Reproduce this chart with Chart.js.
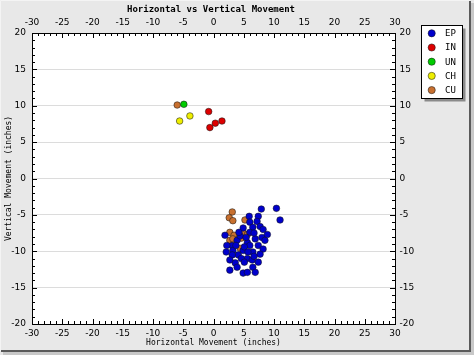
<!DOCTYPE html>
<html><head><meta charset="utf-8">
<script src="https://cdn.jsdelivr.net/npm/chart.js@4"></script>
<style>html,body{margin:0;padding:0;background:#e8e8e8;} canvas{display:block;}</style>
</head><body>
<canvas id="c" width="474" height="355"></canvas>
<script>
// ---- data ----
const seriesNames = ['EP', 'IN', 'UN', 'CH', 'CU'];
const seriesColors = ['#0000cc', '#dd0000', '#00cc00', '#eeee00', '#c8702f'];
const chartTitle = 'Horizontal vs Vertical Movement';
const xTitle = 'Horizontal Movement (inches)';
const yTitle = 'Vertical Movement (inches)';
const xTicks = [-30, -25, -20, -15, -10, -5, 0, 5, 10, 15, 20, 25, 30];
const yTicks = [-20, -15, -10, -5, 0, 5, 10, 15, 20];

const epX = [7.9, 10.4, 11.0, 7.4, 7.2, 5.9, 6.0, 7.7, 8.2, 6.5, 6.0, 8.0, 6.9, 5.6, 6.0, 7.4, 8.2, 4.9, 6.5, 7.7, 3.1, 2.2, 1.9, 3.9, 3.2, 4.1, 5.6, 6.4, 3.6, 3.9, 6.5, 2.7, 4.9, 5.6, 6.9, 4.9, 4.4, 3.7, 5.1, 5.7, 4.6, 5.1, 3.1, 2.7, 2.1, 6.7, 7.4, 8.5, 8.9, 6.7, 5.4, 4.2];
const epY = [-4.2, -4.1, -5.7, -5.2, -5.9, -5.2, -6.0, -6.6, -7.0, -6.7, -7.4, -8.1, -8.3, -8.8, -9.2, -9.2, -9.7, -9.9, -10.1, -10.4, -9.2, -9.2, -7.8, -8.5, -9.9, -10.5, -11.0, -11.2, -11.6, -12.2, -12.2, -12.6, -13.0, -12.9, -12.9, -6.8, -7.9, -9.2, -9.4, -10.1, -11.0, -11.5, -10.5, -11.2, -10.1, -10.7, -11.5, -8.5, -7.7, -7.5, -8.1, -7.4];
const inX = [-0.8, -0.6, 0.3, 1.4];
const inY = [9.2, 7.0, 7.6, 7.9];
const unX = [-4.9];
const unY = [10.2];
const chX = [-5.6, -3.9];
const chY = [7.9, 8.6];
const cuX = [3.1, 2.6, 3.2, 5.2, 2.7, 3.4, 4.9, 5.6, 2.7, 4.6, 3.2, 4.4, -6.0];
const cuY = [-4.6, -5.4, -5.8, -5.7, -7.4, -7.8, -7.5, -7.7, -8.5, -8.2, -8.3, -9.6, 10.1];

const seriesX = [epX, inX, unX, chX, cuX];
const seriesY = [epY, inY, unY, chY, cuY];

const datasets = seriesNames.map((name, i) => ({
  label: name,
  data: seriesX[i].map((x, j) => ({x: x, y: seriesY[i][j]})),
  backgroundColor: seriesColors[i],
  borderColor: 'rgba(20,20,20,0.75)',
  borderWidth: 0.7,
  pointRadius: 3.3,
  pointStyle: 'circle'
}));

const MONO = '"DejaVu Sans Mono", monospace';
const SANS = '"DejaVu Sans", sans-serif';

const bgPlugin = {
  id: 'bg',
  beforeDraw(chart) {
    const ctx = chart.ctx, a = chart.chartArea;
    ctx.save();
    ctx.fillStyle = '#e8e8e8';
    ctx.fillRect(0, 0, chart.width, chart.height);
    ctx.strokeStyle = '#f4f4f4';
    ctx.lineWidth = 1;
    ctx.beginPath(); ctx.moveTo(0.5, 351); ctx.lineTo(0.5, 0.5); ctx.lineTo(470, 0.5); ctx.stroke();
    ctx.fillStyle = '#5a5a5a';
    ctx.fillRect(469, 1, 2, 351);
    ctx.fillRect(1, 350, 470, 2);
    ctx.fillStyle = '#c8c8c8';
    ctx.fillRect(471, 3, 3, 352);
    ctx.fillRect(3, 352, 471, 3);
    ctx.fillStyle = '#ffffff';
    ctx.fillRect(a.left, a.top, a.right - a.left, a.bottom - a.top);
    ctx.restore();
  }
};

const minorTicks = {
  id: 'minorTicks',
  beforeDatasetsDraw(chart) {
    const ctx = chart.ctx, a = chart.chartArea;
    const xs = chart.scales.x, ys = chart.scales.y;
    ctx.save();
    ctx.strokeStyle = '#000';
    ctx.lineWidth = 1;
    ctx.beginPath();
    for (let v = xs.min; v <= xs.max; v++) {
      const px = Math.round(xs.getPixelForValue(v)) + 0.5;
      const len = (v % 5 === 0) ? 5 : 3;
      ctx.moveTo(px, a.top); ctx.lineTo(px, a.top + len);
      ctx.moveTo(px, a.bottom); ctx.lineTo(px, a.bottom - len);
    }
    for (let v = ys.min; v <= ys.max; v++) {
      const py = Math.round(ys.getPixelForValue(v)) + 0.5;
      const len = (v % 5 === 0) ? 5 : 3;
      ctx.moveTo(a.left, py); ctx.lineTo(a.left + len, py);
      ctx.moveTo(a.right, py); ctx.lineTo(a.right - len, py);
    }
    ctx.stroke();
    ctx.restore();
  }
};

const legendBox = {
  id: 'legendBox',
  afterDraw(chart) {
    const ctx = chart.ctx;
    const L = 421.5, T = 25.5, W = 41, H = 73;
    ctx.save();
    ctx.fillStyle = '#8a8a8a';
    ctx.fillRect(L + 3, T + 3, W, H);
    ctx.fillStyle = '#fff';
    ctx.fillRect(L, T, W, H);
    ctx.strokeStyle = '#000';
    ctx.lineWidth = 1;
    ctx.strokeRect(L, T, W, H);
    ctx.font = '9px ' + MONO;
    ctx.textBaseline = 'middle';
    ctx.textAlign = 'left';
    chart.data.datasets.forEach((ds, i) => {
      const cy = 33.3 + i * 14.2;
      ctx.beginPath();
      ctx.arc(431.7, cy, 3.6, 0, Math.PI * 2);
      ctx.fillStyle = ds.backgroundColor;
      ctx.fill();
      ctx.strokeStyle = 'rgba(20,20,20,0.75)';
      ctx.lineWidth = 0.7;
      ctx.stroke();
      ctx.fillStyle = '#000';
      ctx.fillText(ds.label, 445, cy + 0.5);
    });
    ctx.restore();
  }
};

new Chart(document.getElementById('c'), {
  type: 'scatter',
  data: {datasets},
  plugins: [bgPlugin, minorTicks, legendBox],
  options: {
    responsive: false,
    animation: false,
    devicePixelRatio: 1,
    events: [],
    layout: {padding: {left: 0, right: 52, top: 0, bottom: 0}},
    plugins: {
      legend: {display: false},
      tooltip: {enabled: false},
      title: {
        display: true, text: chartTitle, color: '#000',
        font: {family: MONO, size: 9, weight: 'bold'},
        padding: {top: 4.6, bottom: 0}
      }
    },
    scales: {
      x: {
        type: 'linear', position: 'bottom', min: xTicks[0], max: xTicks[xTicks.length - 1],
        afterBuildTicks: s => { s.ticks = xTicks.map(v => ({value: v})); },
        afterFit: s => { s.height = 31; },
        ticks: {color: '#000', font: {family: SANS, size: 9}, padding: 4, maxRotation: 0, autoSkip: false},
        grid: {display: false, drawTicks: false},
        border: {display: true, color: '#000', width: 1},
        title: {display: true, text: xTitle, color: '#000', font: {family: MONO, size: 8}, padding: {top: 0, bottom: 7}}
      },
      x2: {
        type: 'linear', position: 'top', min: xTicks[0], max: xTicks[xTicks.length - 1],
        afterBuildTicks: s => { s.ticks = xTicks.map(v => ({value: v})); },
        afterFit: s => { s.height = 17.6; },
        ticks: {color: '#000', font: {family: SANS, size: 9}, padding: 5, maxRotation: 0, autoSkip: false},
        grid: {display: false, drawTicks: false},
        border: {display: true, color: '#000', width: 1}
      },
      y: {
        type: 'linear', position: 'left', min: yTicks[0], max: yTicks[yTicks.length - 1],
        afterBuildTicks: s => { s.ticks = yTicks.map(v => ({value: v})); },
        afterFit: s => { s.width = 32; },
        ticks: {color: '#000', font: {family: SANS, size: 9}, padding: 6, autoSkip: false},
        grid: {display: true, drawTicks: false, color: '#dcdcdc', lineWidth: 1},
        border: {display: true, color: '#000', width: 1},
        title: {display: true, text: yTitle, color: '#000', font: {family: MONO, size: 8}, padding: {top: 4.5, bottom: 0}}
      },
      y2: {
        type: 'linear', position: 'right', min: yTicks[0], max: yTicks[yTicks.length - 1],
        afterBuildTicks: s => { s.ticks = yTicks.map(v => ({value: v})); },
        afterFit: s => { s.width = 27; },
        ticks: {color: '#000', font: {family: SANS, size: 9}, padding: 4.5, autoSkip: false},
        grid: {display: false, drawTicks: false},
        border: {display: true, color: '#000', width: 1}
      }
    }
  }
});
</script>
</body></html>
